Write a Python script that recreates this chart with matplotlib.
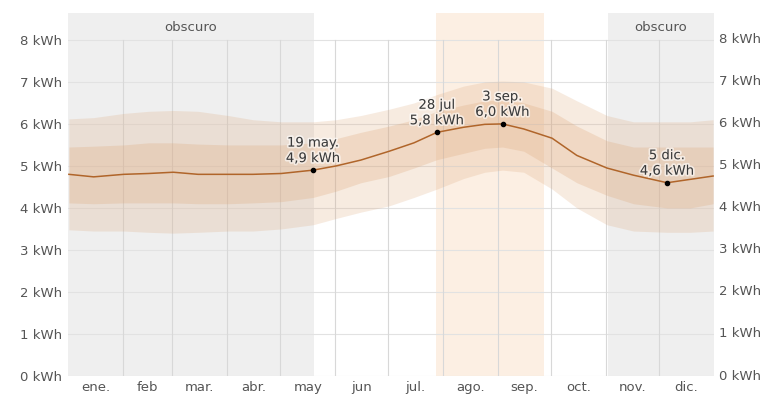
import numpy as np
import matplotlib
matplotlib.use("Agg")
import matplotlib.pyplot as plt
import matplotlib.patheffects as pe

plt.rcParams['font.family'] = ['DejaVu Sans']

# Day-of-year nodes for the daily solar energy series
days = [1, 15, 32, 46, 60, 74, 91, 105, 121, 139, 152, 166, 182, 196, 209,
        224, 236, 246, 258, 274, 288, 305, 320, 339, 352, 365]

median = [4.80, 4.74, 4.80, 4.82, 4.85, 4.80, 4.80, 4.80, 4.82, 4.90, 5.00,
          5.14, 5.35, 5.55, 5.80, 5.92, 5.99, 6.00, 5.88, 5.66, 5.25, 4.95,
          4.78, 4.60, 4.68, 4.76]
p75 = [5.45, 5.47, 5.50, 5.55, 5.55, 5.52, 5.50, 5.50, 5.50, 5.55, 5.65,
       5.80, 5.95, 6.10, 6.30, 6.45, 6.55, 6.57, 6.50, 6.30, 5.95, 5.60,
       5.45, 5.45, 5.45, 5.45]
p25 = [4.12, 4.10, 4.12, 4.12, 4.12, 4.10, 4.10, 4.12, 4.15, 4.25, 4.40,
       4.60, 4.75, 4.95, 5.15, 5.30, 5.42, 5.45, 5.35, 4.95, 4.60, 4.30,
       4.10, 4.00, 4.00, 4.10]
p90 = [6.12, 6.15, 6.25, 6.30, 6.32, 6.30, 6.20, 6.10, 6.05, 6.05, 6.10,
       6.20, 6.35, 6.50, 6.70, 6.90, 7.00, 7.02, 7.00, 6.85, 6.55, 6.20,
       6.05, 6.05, 6.05, 6.10]
p10 = [3.48, 3.45, 3.45, 3.42, 3.40, 3.42, 3.45, 3.45, 3.50, 3.60, 3.75,
       3.90, 4.05, 4.25, 4.45, 4.70, 4.85, 4.90, 4.85, 4.45, 4.00, 3.60,
       3.45, 3.42, 3.42, 3.45]

month_labels = ["ene.", "feb", "mar.", "abr.", "may", "jun",
                "jul.", "ago.", "sep.", "oct.", "nov.", "dic."]
month_starts = [0, 31, 59, 90, 120, 151, 181, 212, 243, 273, 304, 334, 365]

y_ticks = [0, 1, 2, 3, 4, 5, 6, 7, 8]
y_labels = [f"{v} kWh" for v in y_ticks]

# Shaded periods (day-of-year)
dark_periods = [(1, 139), (306, 365)]
bright_period = (209, 269)

# Labelled points: (day, value, date text)
highlights = [(139, 4.9, "19 may."), (209, 5.8, "28 jul"),
              (246, 6.0, "3 sep."), (339, 4.6, "5 dic.")]

x = np.array(days) - 0.5
text_color = "#555555"

fig = plt.figure(figsize=(7.73, 3.94), dpi=100)
ax = fig.add_axes([68 / 773, 1 - 376 / 394, (714 - 68) / 773, (376 - 13) / 394])
ax.set_xlim(0, 365)
ax.set_ylim(0, 8.64)

for a, b in dark_periods:
    ax.axvspan(a - 1, b, color="#efefef", lw=0, zorder=0)
ax.axvspan(bright_period[0] - 1, bright_period[1], color="#fcefe3", lw=0, zorder=0)

# grid
for v in y_ticks:
    ax.plot([0, 365], [v, v], color="#e2e2e2", lw=0.8, zorder=1)
for m in month_starts[1:-1]:
    ax.plot([m, m], [0, 8], color="#d8d8d8", lw=0.8, zorder=1)

ax.fill_between(x, p10, p90, color="#dca576", alpha=0.22, lw=0, zorder=2)
ax.fill_between(x, p25, p75, color="#dca576", alpha=0.26, lw=0, zorder=3)
ax.plot(x, median, color="#b0652a", lw=1.1, zorder=4)

for d, v, label in highlights:
    ax.plot(d - 0.5, v, "o", color="black", ms=3, zorder=5)
    ax.text(d - 0.5, v + 0.12, f"{label}\n{str(v).replace('.', ',')} kWh",
            ha="center", va="bottom", fontsize=9.5, color="#3a3a3a",
            linespacing=1.25, zorder=6,
            path_effects=[pe.withStroke(linewidth=2.5, foreground="white", alpha=0.6)])

for a, b in dark_periods:
    ax.text((a - 1 + b) / 2, 8.3, "obscuro", ha="center", va="center",
            fontsize=9.5, color=text_color, zorder=6)

for i, lab in enumerate(month_labels):
    ax.text((month_starts[i] + month_starts[i + 1]) / 2, -0.12, lab,
            ha="center", va="top", fontsize=9.5, color=text_color)

ax.set_xticks([])
ax.set_yticks(y_ticks)
ax.set_yticklabels(y_labels, fontsize=9.5, color=text_color)
ax.tick_params(axis="y", length=0, pad=4)
for v, lab in zip(y_ticks, y_labels):
    ax.text(368, v, lab, ha="left", va="center", fontsize=9.5, color=text_color)

for s in ax.spines.values():
    s.set_visible(False)

fig.savefig("out.png", dpi=100)
